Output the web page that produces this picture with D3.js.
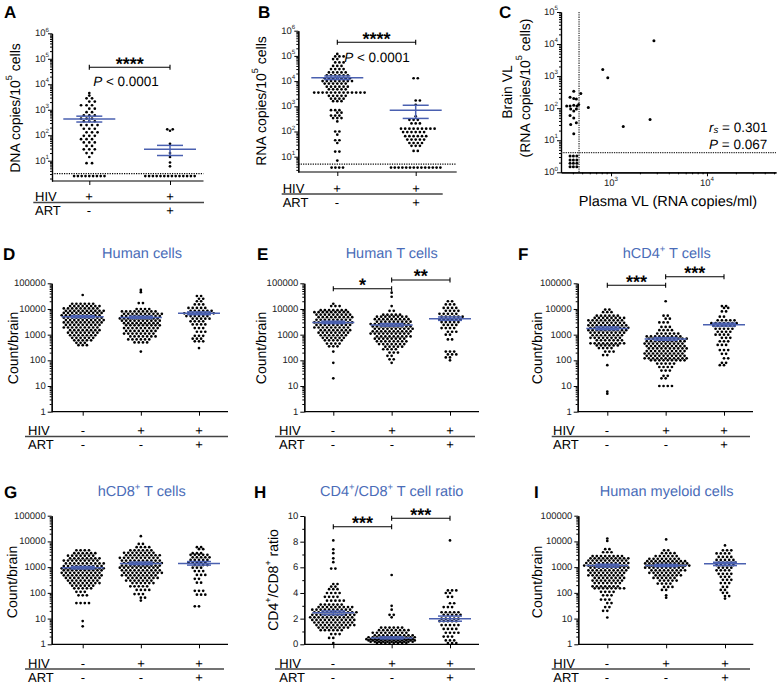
<!DOCTYPE html>
<html>
<head>
<meta charset="utf-8">
<script src="https://cdn.jsdelivr.net/npm/d3@7/dist/d3.min.js"></script>
<style>
  html, body { margin: 0; padding: 0; background: #fff; }
  svg { display: block; }
  text { text-rendering: geometricPrecision; }
</style>
</head>
<body>
<script>
// ---- values ----
// dot-plot groups are rows of [value, number of dots in that row]
const hivAB = ["+", "+"];
const artAB = ["-", "+"];
const hivDI = ["-", "+", "+"];
const artDI = ["-", "-", "+"];

// A  HIV DNA in brain
const dnaNoArt = [[4500,1],[3600,1],[2800,2],[2100,2],[1500,3],[1100,2],[800,2],[600,3],[450,3],[350,3],[250,4],[180,3],[130,3],[95,3],[70,3],[52,3],[38,2],[28,3],[20,2],[14,1],[8,2]];
const dnaArt = [[170,2],[150,1],[46,1],[20,1],[14,1],[8.5,1],[6,1]];
const dnaBelow = [9, 14];
const dnaLimit = 3.1, dnaBelowAt = 2.5;
const dnaMean = [430, 28], dnaLo = [330, 16], dnaHi = [560, 40];

// B  HIV RNA in brain
const rnaNoArt = [[120000,1],[95000,3],[75000,2],[55000,3],[40000,3],[30000,4],[22000,5],[17000,6],[13000,7],[10000,8],[8000,6],[6000,6],[4700,5],[3500,13],[2600,5],[2000,4],[1600,3],[700,3],[560,2],[430,3],[340,3],[250,1],[100,2],[75,1],[45,2],[35,1],[16,2],[7,1]];
const rnaArt = [[13000,2],[1700,2],[1150,1],[400,1],[290,3],[210,3],[130,9],[95,6],[65,6],[48,5],[35,4],[27,3],[17,2]];
const rnaBelow = [4, 14];
const rnaLimit = 5.1, rnaBelowAt = 3.7;
const rnaMean = [13500, 700], rnaLo = [11500, 330], rnaHi = [16000, 1100];

// C  brain vs plasma viral load
const plasmaVL = [2800, 820, 925, 484, 580, 1340, 2550, 409, 374, 435, 409, 345, 374, 409, 442, 380, 435, 409, 374, 409, 435, 380, 409, 460, 374, 405, 440, 374, 405, 440, 374, 405, 440, 374, 405, 440];
const brainVL = [12600, 1600, 890, 285, 105, 27, 44, 340, 220, 195, 200, 118, 118, 124, 118, 95, 95, 82, 59, 49, 35, 31, 16, 130, 3.2, 3.2, 3.2, 2.4, 2.4, 2.4, 1.9, 1.9, 1.9, 1.5, 1.5, 1.5];
const plasmaLimit = 464, brainLimit = 4.1;
const corrStats = ["0.301", "0.067"];

// D  human cells
const humanUninf = [[35000,1],[16000,6],[13000,8],[10500,9],[8500,10],[7000,10],[5700,10],[4600,10],[3700,10],[3000,10],[2400,9],[1900,9],[1500,8],[1200,8],[950,7],[750,6],[600,5],[480,3],[390,3]];
const humanHiv = [[55000,1],[45000,1],[17000,2],[10000,4],[8000,9],[6500,10],[5300,10],[4300,10],[3500,10],[2800,9],[2300,9],[1800,9],[1400,8],[1100,8],[850,7],[650,6],[500,4],[220,1]];
const humanArt = [[32000,2],[25000,2],[20000,2],[15000,3],[11000,5],[8500,6],[6800,8],[5300,6],[4200,5],[3300,4],[2500,4],[1800,3],[1300,3],[900,3],[700,3],[550,3],[300,1]];
const humanMean = [5000, 4700, 6800], humanLo = [4600, 4300, 6000], humanHi = [5500, 5200, 7700];

// E  human T cells
const tUninf = [[16000,1],[13000,3],[9000,7],[7500,9],[6000,9],[4800,9],[3800,9],[3000,10],[2400,9],[1900,9],[1500,8],[1200,8],[950,7],[750,6],[600,5],[450,4],[350,3],[220,1],[80,1],[20,1]];
const tHiv = [[43000,1],[30000,1],[13000,1],[8500,2],[6000,5],[5000,8],[4000,9],[3200,9],[2600,10],[2100,10],[1700,10],[1350,10],[1100,10],[850,9],[700,8],[550,8],[430,7],[340,5],[270,4],[200,3],[150,2],[110,2],[80,1]];
const tArt = [[20000,2],[15000,3],[11000,4],[8500,4],[6500,5],[5000,6],[4000,6],[3100,5],[2400,4],[1800,4],[1300,3],[1000,2],[650,2],[220,3],[170,3],[130,2],[100,1]];
const tMean = [3000, 2400, 4200], tLo = [2700, 2150, 3600], tHi = [3350, 2700, 4900];

// F  hCD4+ T cells
const cd4Uninf = [[9500,2],[7500,3],[5500,6],[4500,8],[3600,9],[2900,9],[2300,10],[1850,10],[1500,10],[1200,9],[950,8],[750,8],[600,7],[460,9],[380,6],[300,4],[220,3],[160,2],[65,1],[6,1],[5,1]];
const cd4Hiv = [[20000,1],[5500,2],[4200,2],[3000,3],[2000,3],[1500,4],[1100,6],[850,9],[700,10],[560,10],[450,10],[360,10],[290,10],[230,10],[185,10],[150,10],[120,11],[100,9],[75,5],[55,4],[40,3],[25,2],[20,2],[10,4]];
const cd4Art = [[13000,2],[11000,2],[8000,2],[5000,2],[3600,5],[2800,7],[2200,6],[1700,5],[1300,4],[1000,4],[750,3],[550,3],[400,3],[250,3],[180,2],[120,2],[80,2],[65,2]];
const cd4Mean = [1750, 680, 2450], cd4Lo = [1550, 600, 2150], cd4Hi = [2000, 770, 2800];

// G  hCD8+ T cells
const cd8Uninf = [[4500,4],[3500,6],[2800,7],[2200,8],[1800,9],[1400,10],[1100,10],[900,11],[750,10],[600,10],[480,10],[380,9],[300,8],[240,8],[190,6],[150,5],[110,3],[80,3],[40,4],[8,1],[5,1]];
const cd8Hiv = [[16000,1],[8000,2],[6000,4],[4500,6],[3600,8],[2900,9],[2300,10],[1800,10],[1450,10],[1150,10],[950,10],[750,10],[600,10],[480,9],[380,8],[300,7],[240,6],[180,5],[130,4],[90,3],[65,2],[50,1]];
const cd8Art = [[6000,2],[5000,2],[3500,3],[3000,5],[2400,5],[1900,5],[1500,5],[1200,4],[950,3],[700,3],[500,3],[350,2],[250,2],[120,3],[85,3],[30,2]];
const cd8Mean = [950, 1400, 1400], cd8Lo = [850, 1250, 1200], cd8Hi = [1060, 1580, 1650];

// H  CD4/CD8 ratio
const ratioUninf = [[8.1,1],[7.4,1],[7.1,1],[6.7,1],[6.4,1],[5.9,2],[4.7,2],[4.5,2],[4.3,3],[4.0,4],[3.7,4],[3.4,5],[3.1,6],[2.9,9],[2.7,10],[2.5,11],[2.3,11],[2.1,11],[1.9,11],[1.7,10],[1.5,10],[1.3,8],[1.1,6],[0.8,3],[0.5,2],[0.1,1]];
const ratioHiv = [[5.4,1],[3.0,1],[2.7,1],[2.3,2],[2.1,1],[1.3,6],[1.1,8],[0.9,9],[0.7,10],[0.55,12],[0.4,12],[0.3,12],[0.2,11],[0.1,8]];
const ratioArt = [[8.1,1],[4.2,3],[4.0,2],[3.7,2],[3.2,2],[2.9,3],[2.5,5],[2.3,5],[2.0,5],[1.8,5],[1.5,5],[1.2,4],[0.9,4],[0.6,3],[0.3,3],[0.1,3]];
const ratioMean = [2.45, 0.5, 2.0], ratioLo = [2.3, 0.42, 1.8], ratioHi = [2.6, 0.58, 2.2];

// I  human myeloid cells
const myeUninf = [[13000,1],[10500,1],[5000,2],[3800,3],[2700,8],[2200,10],[1800,10],[1450,11],[1150,11],[950,10],[750,10],[600,9],[480,9],[380,8],[300,8],[240,7],[180,7],[150,8],[110,4],[80,3],[55,3],[40,2],[28,2],[20,2],[11,1]];
const myeHiv = [[12000,1],[4500,2],[3500,4],[2700,6],[2100,8],[1700,10],[1400,11],[1150,11],[950,10],[750,9],[600,8],[480,7],[380,6],[300,5],[230,4],[170,3],[130,2],[80,1],[65,1]];
const myeArt = [[7000,1],[4500,3],[3400,4],[2500,4],[1900,5],[1500,5],[1200,5],[950,4],[750,4],[550,4],[420,3],[320,3],[240,3],[170,2],[130,2],[100,2],[75,2],[60,1]];
const myeMean = [1150, 1150, 1350], myeLo = [1000, 1050, 1150], myeHi = [1300, 1280, 1550];

const countTicks = [1, 10, 100, 1000, 10000, 100000];
const powTicksAB = [10, 100, 1000, 10000, 100000, 1000000];
const ratioTicks = [0, 2, 4, 6, 8, 10];

// ---- drawing ----
const blue = "#4a60b0";
const titleBlue = "#4a6cb8";
const svg = d3.select("body").append("svg")
  .attr("width", 780).attr("height", 699)
  .attr("font-family", '"Liberation Sans", Arial, Helvetica, sans-serif');

// text with sup/sub/italic pieces
function rich(t, parts, size) {
  let shift = 0;
  parts.forEach((p) => {
    const [s, k] = Array.isArray(p) ? p : [p, ""];
    const ts = t.append("tspan").text(s);
    let target = 0;
    if (k.includes("sup")) { ts.attr("font-size", size * 0.65); target = -size * 0.4; }
    if (k.includes("sub")) { ts.attr("font-size", size * 0.72); target = size * 0.28; }
    if (k.startsWith("i")) ts.attr("font-style", "italic");
    if (target !== shift) ts.attr("dy", target - shift);
    shift = target;
  });
  return t;
}

function label(x, y, parts, size, opts = {}) {
  const t = svg.append("text").attr("x", x).attr("y", y)
    .attr("font-size", size).attr("dominant-baseline", "central")
    .attr("text-anchor", opts.anchor || "start")
    .attr("fill", opts.fill || "#000");
  if (opts.bold) t.attr("font-weight", "bold");
  return rich(t, parts, size);
}

function yLabel(x, y, parts) {
  const t = svg.append("text")
    .attr("transform", `translate(${x},${y}) rotate(-90)`)
    .attr("text-anchor", "middle").attr("dominant-baseline", "central")
    .attr("font-size", 14);
  rich(t, parts, 14);
}

function styleAxis(g) {
  g.select(".domain").attr("stroke", "#000").attr("stroke-width", 1.2);
  g.selectAll(".tick line").attr("stroke", "#000").attr("stroke-width", 1);
  g.selectAll(".tick text").remove();
}

function logMinors(domain) {
  const out = [];
  for (let e = Math.floor(Math.log10(domain[0])); e < Math.ceil(Math.log10(domain[1])); e++)
    for (let m = 2; m <= 9; m++) {
      const v = m * Math.pow(10, e);
      if (v >= domain[0] && v <= domain[1]) out.push(v);
    }
  return out;
}

const powLabel = (v) => ["10", [String(Math.round(Math.log10(v))), "sup"]];

function dotPanel(o) {
  const y = o.log ? d3.scaleLog().domain(o.domain).range(o.range)
                  : d3.scaleLinear().domain(o.domain).range(o.range);
  const xs = d3.scalePoint().domain(d3.range(o.groups.length)).range(o.gx);
  const yb = o.range[0];

  const minors = o.log ? logMinors(o.domain) : o.minor;
  svg.append("g").attr("transform", `translate(${o.ax},0)`)
    .call(d3.axisLeft(y).tickValues(minors).tickSize(2).tickSizeOuter(0)).call(styleAxis);
  svg.append("g").attr("transform", `translate(${o.ax},0)`)
    .call(d3.axisLeft(y).tickValues(o.major).tickSize(4).tickSizeOuter(0)).call(styleAxis);
  o.major.forEach((v) => {
    label(o.ax - o.labGap, y(v), o.tickLabel(v), 9.5, { anchor: "end", fill: "#222" });
  });

  svg.append("line").attr("x1", o.ax).attr("x2", o.xEnd).attr("y1", yb).attr("y2", yb)
    .attr("stroke", "#000").attr("stroke-width", 1.2);
  svg.append("g").attr("transform", `translate(0,${yb})`)
    .call(d3.axisBottom(xs).tickSize(4).tickSizeOuter(0))
    .call((g) => { g.select(".domain").remove(); g.selectAll(".tick text").remove();
      g.selectAll(".tick line").attr("stroke", "#000").attr("stroke-width", 1); });

  if (o.limit) {
    svg.append("line").attr("x1", o.ax).attr("x2", o.xEnd)
      .attr("y1", y(o.limit)).attr("y2", y(o.limit))
      .attr("stroke", "#000").attr("stroke-width", 1.2).attr("stroke-dasharray", "1.2,1.2");
  }

  // rows of dots; neighbouring rows with the same parity get a half-step stagger
  const pts = [];
  o.groups.forEach((rows, i) => {
    let prev = -1, flip = 1;
    rows.forEach(([v, n]) => {
      let off = 0;
      if (n > 1 && n % 2 === prev % 2) { off = flip * o.spacing / 2; flip = -flip; }
      prev = off ? n + 1 : n;
      for (let k = 0; k < n; k++) pts.push({ x: xs(i) + off + (k - (n - 1) / 2) * o.spacing, y: y(v) });
    });
  });
  if (o.below) o.below.forEach((n, i) => {
    for (let k = 0; k < n; k++) pts.push({ x: xs(i) + (k - (n - 1) / 2) * 3.8, y: y(o.belowAt) });
  });
  svg.append("g").selectAll("circle").data(pts).join("circle")
    .attr("cx", (d) => d.x).attr("cy", (d) => d.y).attr("r", 1.35).attr("fill", "#000");

  const mg = svg.append("g").attr("stroke", blue).attr("stroke-width", 1.5);
  o.mean.forEach((m, i) => {
    const cx = xs(i);
    mg.append("line").attr("x1", cx - o.mh).attr("x2", cx + o.mh).attr("y1", y(m)).attr("y2", y(m));
    [o.lo[i], o.hi[i]].forEach((v) => mg.append("line")
      .attr("x1", cx - o.sh).attr("x2", cx + o.sh).attr("y1", y(v)).attr("y2", y(v)));
    mg.append("line").attr("x1", cx).attr("x2", cx).attr("y1", y(o.lo[i])).attr("y2", y(o.hi[i]));
  });

  (o.brackets || []).forEach((b) => {
    const x0 = xs(b.from), x1 = xs(b.to);
    svg.append("path")
      .attr("d", `M${x0},${b.y - 2.5}V${b.y + 2.5}M${x0},${b.y}H${x1}M${x1},${b.y - 2.5}V${b.y + 2.5}`)
      .attr("stroke", "#000").attr("stroke-width", 1.1).attr("fill", "none");
    svg.append("text").attr("x", (x0 + x1) / 2).attr("y", b.y - 8 + 0.57 * 18)
      .attr("text-anchor", "middle").attr("font-size", 18).attr("font-weight", "bold")
      .text(b.stars);
  });
  if (o.pText) label(o.pText[0], o.pText[1], [["P", "i"], " < 0.0001"], 13.5, { anchor: "middle" });

  // HIV / ART rows
  label(o.fx, o.hivY, ["HIV"], 13);
  label(o.fx, o.artY, ["ART"], 13);
  o.hiv.forEach((s, i) => label(Math.round(xs(i)), o.hivY, [s], 13, { anchor: "middle" }));
  o.art.forEach((s, i) => label(Math.round(xs(i)), o.artY, [s], 13, { anchor: "middle" }));
  svg.append("line").attr("x1", o.sep[0]).attr("x2", o.sep[1]).attr("y1", o.sepY).attr("y2", o.sepY)
    .attr("stroke", "#444").attr("stroke-width", 1.3);

  if (o.title) label(o.title[0], o.title[1], o.title[2], 14.5, { anchor: "middle", fill: titleBlue });
  label(o.letter[0], o.letter[1], [o.letter[2]], 17, { bold: true });
  yLabel(o.yl[0], o.yl[1], o.yl[2]);
}

const countLabel = (v) => [String(v)];
const cellsAxis = ["Count/brain"];

// row 1
dotPanel({
  log: true, domain: [1.6, 1e6], range: [181, 33.3], ax: 52, xEnd: 203.5, gx: [89.3, 170],
  major: powTicksAB, tickLabel: powLabel, labGap: 3,
  groups: [dnaNoArt, dnaArt], spacing: 5.5, below: dnaBelow, belowAt: dnaBelowAt, limit: dnaLimit,
  mean: dnaMean, lo: dnaLo, hi: dnaHi, mh: 26, sh: 13,
  brackets: [{ from: 0, to: 1, y: 67.3, stars: "****" }], pText: [126, 81],
  hiv: hivAB, art: artAB, fx: 35, hivY: 196, artY: 210, sep: [33.3, 204], sepY: 202.5,
  letter: [4, 12, "A"], yl: [15, 108, ["DNA copies/10", ["5", "sup"], " cells"]],
});

dotPanel({
  log: true, domain: [2.47, 1e6], range: [172, 30.7], ax: 298.3, xEnd: 456.7, gx: [337.3, 415.7],
  major: powTicksAB, tickLabel: powLabel, labGap: 3,
  groups: [rnaNoArt, rnaArt], spacing: 4.2, below: rnaBelow, belowAt: rnaBelowAt, limit: rnaLimit,
  mean: rnaMean, lo: rnaLo, hi: rnaHi, mh: 26, sh: 13,
  brackets: [{ from: 0, to: 1, y: 42.3, stars: "****" }], pText: [377, 56.5],
  hiv: hivAB, art: artAB, fx: 282.7, hivY: 188, artY: 202, sep: [281.7, 442.7], sepY: 194,
  letter: [258, 12, "B"], yl: [261, 101, ["RNA copies/10", ["5", "sup"], " cells"]],
});

// C scatter
(function () {
  const x = d3.scaleLog().domain([301, 52400]).range([561, 776]);
  const y = d3.scaleLog().domain([1, 1e5]).range([172.3, 12]);
  const yMaj = [1, 10, 100, 1000, 10000, 100000];
  const xMaj = [1000, 10000];
  svg.append("g").attr("transform", "translate(561,0)")
    .call(d3.axisLeft(y).tickValues(logMinors(y.domain())).tickSize(2).tickSizeOuter(0)).call(styleAxis);
  svg.append("g").attr("transform", "translate(561,0)")
    .call(d3.axisLeft(y).tickValues(yMaj).tickSize(4).tickSizeOuter(0)).call(styleAxis);
  svg.append("g").attr("transform", "translate(0,172.3)")
    .call(d3.axisBottom(x).tickValues(logMinors(x.domain())).tickSize(2).tickSizeOuter(0)).call(styleAxis);
  svg.append("g").attr("transform", "translate(0,172.3)")
    .call(d3.axisBottom(x).tickValues(xMaj).tickSize(4).tickSizeOuter(0)).call(styleAxis);
  yMaj.forEach((v) => label(558, y(v), powLabel(v), 9.5, { anchor: "end", fill: "#222" }));
  xMaj.forEach((v) => label(x(v), 183, powLabel(v), 9.5, { anchor: "middle", fill: "#222" }));

  const dot = { stroke: "#333", "stroke-width": 1.2, "stroke-dasharray": "1.3,1" };
  const vl = svg.append("line").attr("x1", x(plasmaLimit)).attr("x2", x(plasmaLimit))
    .attr("y1", 12).attr("y2", 172.3);
  const hl = svg.append("line").attr("x1", 561).attr("x2", 776)
    .attr("y1", y(brainLimit)).attr("y2", y(brainLimit));
  [vl, hl].forEach((l) => Object.entries(dot).forEach(([k, v]) => l.attr(k, v)));

  svg.append("g").selectAll("circle").data(plasmaVL.map((p, i) => [p, brainVL[i]])).join("circle")
    .attr("cx", (d) => x(d[0])).attr("cy", (d) => y(d[1])).attr("r", 1.5).attr("fill", "#000");

  label(709, 126.5, [["r", "i"], ["s", "isub"], " = " + corrStats[0]], 13.5);
  label(709, 144, [["P", "i"], " = " + corrStats[1]], 13.5);
  label(668, 201.7, ["Plasma VL (RNA copies/ml)"], 14.5, { anchor: "middle" });
  label(499, 12, ["C"], 17, { bold: true });
  yLabel(507, 92, ["Brain VL"]);
  yLabel(525, 88, ["(RNA copies/10", ["5", "sup"], " cells)"]);
})();

// row 2
const row2 = { log: true, domain: [1, 1e5], range: [411.7, 283.3], major: countTicks, tickLabel: countLabel,
  labGap: 6, spacing: 4.2, mh: 21, sh: 12, hiv: hivDI, art: artDI, hivY: 430, artY: 444, sepY: 436.5 };
dotPanel(Object.assign({}, row2, {
  ax: 51.7, xEnd: 228, gx: [82.7, 199], groups: [humanUninf, humanHiv, humanArt],
  mean: humanMean, lo: humanLo, hi: humanHi, fx: 28, sep: [25, 228],
  title: [142, 254, ["Human cells"]], letter: [3, 254, "D"], yl: [13, 348, cellsAxis],
}));
dotPanel(Object.assign({}, row2, {
  ax: 304.3, xEnd: 479, gx: [333.3, 450], groups: [tUninf, tHiv, tArt],
  mean: tMean, lo: tLo, hi: tHi, fx: 279, sep: [275, 475],
  brackets: [{ from: 0, to: 1, y: 288.7, stars: "*" }, { from: 1, to: 2, y: 280, stars: "**" }],
  title: [391.7, 254, ["Human T cells"]], letter: [257, 254, "E"], yl: [261, 348, cellsAxis],
}));
dotPanel(Object.assign({}, row2, {
  ax: 577.7, xEnd: 753, gx: [607.3, 724], groups: [cd4Uninf, cd4Hiv, cd4Art],
  mean: cd4Mean, lo: cd4Lo, hi: cd4Hi, fx: 553, sep: [551.7, 750],
  brackets: [{ from: 0, to: 1, y: 285.3, stars: "***" }, { from: 1, to: 2, y: 276.7, stars: "***" }],
  title: [666.7, 254, ["hCD4", ["+", "sup"], " T cells"]], letter: [518, 254, "F"], yl: [536.7, 348, cellsAxis],
}));

// row 3
const row3 = { hiv: hivDI, art: artDI, hivY: 663, artY: 677, sepY: 669, spacing: 4.2, mh: 21, sh: 12 };
dotPanel(Object.assign({}, row3, {
  log: true, domain: [1, 1e5], range: [644.3, 515.7], major: countTicks, tickLabel: countLabel, labGap: 6,
  ax: 51.7, xEnd: 228, gx: [82.7, 199], groups: [cd8Uninf, cd8Hiv, cd8Art],
  mean: cd8Mean, lo: cd8Lo, hi: cd8Hi, fx: 28, sep: [25, 224],
  title: [141.7, 492, ["hCD8", ["+", "sup"], " T cells"]], letter: [4, 492, "G"], yl: [12, 582, cellsAxis],
}));
dotPanel(Object.assign({}, row3, {
  log: false, domain: [0, 10], range: [644.3, 516], major: ratioTicks, minor: [1, 3, 5, 7, 9],
  tickLabel: countLabel, labGap: 6,
  ax: 304.3, xEnd: 479, gx: [333.3, 450], groups: [ratioUninf, ratioHiv, ratioArt],
  mean: ratioMean, lo: ratioLo, hi: ratioHi, fx: 279.3, sep: [275, 475],
  brackets: [{ from: 0, to: 1, y: 526.7, stars: "***" }, { from: 1, to: 2, y: 518.3, stars: "***" }],
  title: [391.7, 492, ["CD4", ["+", "sup"], "/CD8", ["+", "sup"], " T cell ratio"]], letter: [254, 492, "H"],
  yl: [273.3, 580, ["CD4", ["+", "sup"], "/CD8", ["+", "sup"], " ratio"]],
}));
dotPanel(Object.assign({}, row3, {
  log: true, domain: [1, 1e5], range: [644.3, 515.7], major: countTicks, tickLabel: countLabel, labGap: 6,
  ax: 578.3, xEnd: 753.3, gx: [607.3, 725], groups: [myeUninf, myeHiv, myeArt],
  mean: myeMean, lo: myeLo, hi: myeHi, fx: 553.3, sep: [551.7, 750],
  title: [666.7, 492, ["Human myeloid cells"]], letter: [534, 492, "I"], yl: [536.7, 582, cellsAxis],
}));
</script>
</body>
</html>
